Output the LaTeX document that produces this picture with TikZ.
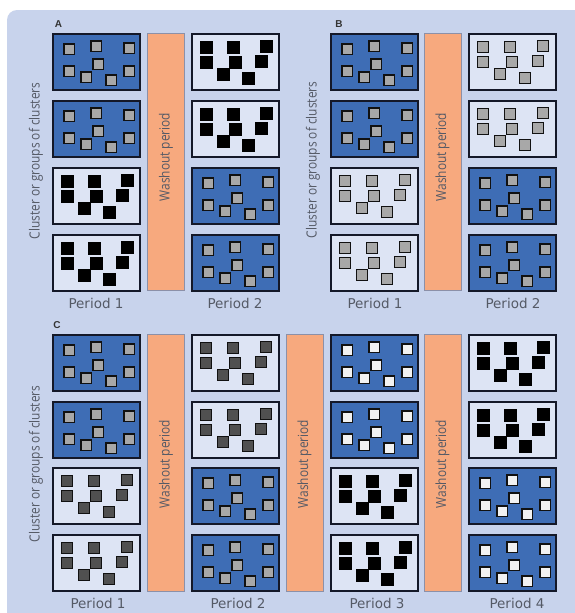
\documentclass[tikz,border=0pt]{standalone}
\usepackage{fontspec}
\setmainfont{DejaVu Sans}
\newfontfamily\condfont[FakeStretch=0.85]{Open Sans}
\newfontfamily\letterfont{Liberation Sans}
\definecolor{bgcol}{HTML}{C8D3EC}
\definecolor{lightfill}{HTML}{DDE4F4}
\definecolor{bluefill}{HTML}{3E6DB5}
\definecolor{boxline}{HTML}{141828}
\definecolor{barfill}{HTML}{F7A97E}
\definecolor{barline}{HTML}{8C90A8}
\definecolor{sqgray}{HTML}{A8A8A8}
\definecolor{sqdark}{HTML}{505050}
\definecolor{sqwhite}{HTML}{F2F2F2}
\definecolor{sqline}{HTML}{111111}
\definecolor{txtgray}{HTML}{555A66}
\tikzset{
  cellbase/.style={draw=boxline, line width=1.8pt, minimum width=87pt, minimum height=56pt, inner sep=0pt, outer sep=0pt},
  bluecell/.style={cellbase, fill=bluefill},
  lightcell/.style={cellbase, fill=lightfill},
  washbar/.style={fill=barfill, draw=barline, line width=0.9pt, minimum width=37pt, minimum height=257pt, inner sep=0pt, outer sep=0pt},
  graysq/.style={fill=sqgray, draw=sqline, line width=1.4pt},
  darksq/.style={fill=sqdark, draw=sqline, line width=1.4pt},
  whitesq/.style={fill=sqwhite, draw=sqline, line width=1.4pt},
  blacksq/.style={fill=black, draw=black, line width=0.4pt},
  washtext/.style={font=\condfont\fontsize{14}{16}\selectfont, text=txtgray, rotate=90, inner sep=0pt},
  clustertext/.style={font=\condfont\fontsize{14}{16}\selectfont, text=txtgray, rotate=90, inner sep=0pt},
  periodtext/.style={font=\fontsize{13.5}{15}\selectfont, text=txtgray, inner sep=0pt},
  paneltext/.style={font=\letterfont\bfseries\fontsize{10}{11}\selectfont, text=black!80, inner sep=0pt}
}
\newcommand\pcell[4]{%
  \node[bluecell] (#1) at (#2+44.5,#3+29) {};
  \foreach \dx/\dy in {17/16,44/13,77/15,46/31,17/38,34/44,59/47,77/38}
    \draw[#4] (#2+\dx-5.2,#3+\dy-5.2) rectangle ++(10.4,10.4);
}
\newcommand\qcell[5]{%
  \node[lightcell] (#1) at (#2+44.5,#3+29) {};
  \foreach \dx/\dy in {15/14,42/14,75/13,15/29,44/29,70/28,32/41,57/45}
    \draw[#4] (#2+\dx-#5,#3+\dy-#5) rectangle ++(2*#5,2*#5);
}
\begin{document}
\begin{tikzpicture}[x=1pt,y=-1pt]
\useasboundingbox (0,0) rectangle (575,613);
\fill[white] (0,0) rectangle (575,613);
\fill[bgcol, rounded corners=10pt] (7,10) rectangle (600,640);

% ---------------- Panel A ----------------
\node[paneltext] (labA) at (58.5,24) {A};
\pcell{A11}{52}{33}{graysq}
\pcell{A12}{52}{100}{graysq}
\qcell{A13}{52}{167}{blacksq}{6.3}
\qcell{A14}{52}{234}{blacksq}{6.3}
\node[washbar] (washA) at (166,162) {};
\node[washtext] (washAt) at (166,157) {Washout period};
\qcell{A21}{191}{33}{blacksq}{6.3}
\qcell{A22}{191}{100}{blacksq}{6.3}
\pcell{A23}{191}{167}{graysq}
\pcell{A24}{191}{234}{graysq}
\node[clustertext] (clA) at (36,161) {Cluster or groups of clusters};
\node[periodtext] (pA1) at (96,303) {Period 1};
\node[periodtext] (pA2) at (235,303) {Period 2};

% ---------------- Panel B ----------------
\node[paneltext] (labB) at (339,24) {B};
\pcell{B11}{330}{33}{graysq}
\pcell{B12}{330}{100}{graysq}
\qcell{B13}{330}{167}{graysq}{5.4}
\qcell{B14}{330}{234}{graysq}{5.4}
\node[washbar] (washB) at (442.5,162) {};
\node[washtext] (washBt) at (442.5,157) {Washout period};
\qcell{B21}{468}{33}{graysq}{5.4}
\qcell{B22}{468}{100}{graysq}{5.4}
\pcell{B23}{468}{167}{graysq}
\pcell{B24}{468}{234}{graysq}
\node[clustertext] (clB) at (313,160) {Cluster or groups of clusters};
\node[periodtext] (pB1) at (375,303) {Period 1};
\node[periodtext] (pB2) at (513,303) {Period 2};

% ---------------- Panel C ----------------
\node[paneltext] (labC) at (57,325) {C};
\pcell{C11}{52}{334}{graysq}
\pcell{C12}{52}{401}{graysq}
\qcell{C13}{52}{467}{darksq}{5.6}
\qcell{C14}{52}{534}{darksq}{5.6}
\node[washbar] (washC1) at (166,463) {};
\node[washtext] (washC1t) at (166,464) {Washout period};
\qcell{C21}{191}{334}{darksq}{5.6}
\qcell{C22}{191}{401}{darksq}{5.6}
\pcell{C23}{191}{467}{graysq}
\pcell{C24}{191}{534}{graysq}
\node[washbar] (washC2) at (304.5,463) {};
\node[washtext] (washC2t) at (304.5,464) {Washout period};
\pcell{C31}{330}{334}{whitesq}
\pcell{C32}{330}{401}{whitesq}
\qcell{C33}{330}{467}{blacksq}{6.3}
\qcell{C34}{330}{534}{blacksq}{6.3}
\node[washbar] (washC3) at (442.5,463) {};
\node[washtext] (washC3t) at (442.5,464) {Washout period};
\qcell{C41}{468}{334}{blacksq}{6.3}
\qcell{C42}{468}{401}{blacksq}{6.3}
\pcell{C43}{468}{467}{whitesq}
\pcell{C44}{468}{534}{whitesq}
\node[clustertext] (clC) at (36,464) {Cluster or groups of clusters};
\node[periodtext] (pC1) at (98,603) {Period 1};
\node[periodtext] (pC2) at (238,603) {Period 2};
\node[periodtext] (pC3) at (377,603) {Period 3};
\node[periodtext] (pC4) at (517,603) {Period 4};
\end{tikzpicture}
\end{document}
